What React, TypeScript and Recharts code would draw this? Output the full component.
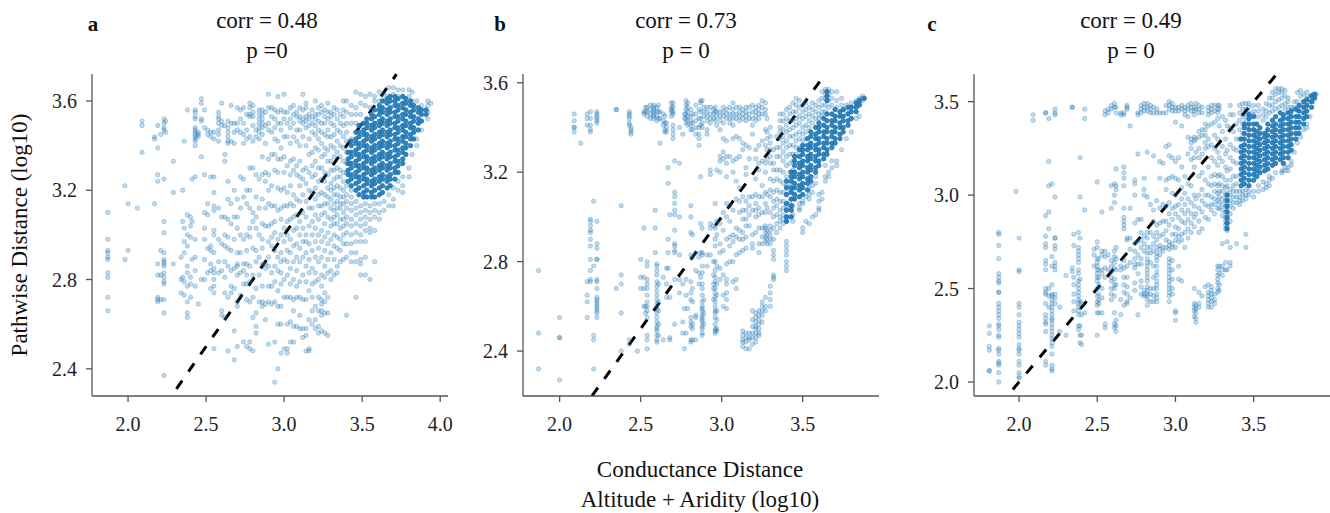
import { ReferenceLine, Scatter, ScatterChart, XAxis, YAxis } from "recharts";

// each entry is one x value and the y values read at that x
type Column = [number, number[]];

const xTicksA = [2.0, 2.5, 3.0, 3.5, 4.0];
const yTicksA = [2.4, 2.8, 3.2, 3.6];
const xTicksB = [2.0, 2.5, 3.0, 3.5];
const yTicksB = [2.4, 2.8, 3.2, 3.6];
const xTicksC = [2.0, 2.5, 3.0, 3.5];
const yTicksC = [2.0, 2.5, 3.0, 3.5];

const pointsA: Column[] = [
  [1.87, [3.1, 2.98, 2.93, 2.92, 2.9, 2.89, 2.83, 2.81, 2.72, 2.66]],
  [1.98, [3.22, 2.89]], [2.0, [3.14, 2.93]], [2.06, [3.12]], [2.09, [3.51, 3.49, 3.37]],
  [2.17, [3.44, 3.43, 3.14]], [2.19, [3.49, 3.39, 3.27, 3.24, 2.87, 2.82, 2.72, 2.71, 2.7]], [2.21, [3.45, 2.93, 2.82, 2.71]],
  [2.23, [3.52, 3.5, 3.48, 3.47, 3.25, 3.06, 3.01, 2.92, 2.89, 2.88, 2.87, 2.86, 2.83, 2.81, 2.79, 2.78, 2.71, 2.65, 2.37]], [2.24, [3.51, 3.46]],
  [2.29, [3.33, 3.19, 2.87]], [2.34, [2.9, 2.8, 2.74]], [2.35, [3.06, 3.2, 2.81]], [2.36, [3.42, 3.03, 2.97, 2.92, 2.79, 2.73]],
  [2.38, [3.56, 3.09, 3.0, 2.95, 2.86, 2.83, 2.77, 2.7, 2.65, 2.63]], [2.4, [3.08, 3.04, 2.99, 2.81, 2.78, 2.72]], [2.41, [3.25, 3.06, 2.89]],
  [2.43, [3.56, 3.55, 3.53, 3.52, 3.48, 3.47, 3.46, 3.45, 3.44, 3.43, 3.42, 3.4, 3.26, 2.98, 2.9, 2.84, 2.77]], [2.45, [3.46, 3.45, 3.44, 2.69]],
  [2.47, [3.61, 3.59, 3.52, 3.51, 3.35, 2.8]], [2.49, [3.56, 3.48, 3.27, 3.1, 3.03, 2.98, 2.89, 2.8]], [2.51, [3.47, 3.45, 3.14, 3.09, 2.94, 2.83]],
  [2.53, [3.46, 3.44, 3.26, 2.95, 2.93, 2.87, 2.84, 2.76]], [2.55, [3.46, 3.43, 3.26, 3.19, 3.13, 3.11, 3.02, 3.0, 2.92, 2.85, 2.83, 2.8, 2.77, 2.74, 2.49]],
  [2.58, [3.55, 3.53, 3.52, 3.5, 3.47, 3.45, 3.42, 3.12, 2.98, 2.88, 2.83]], [2.6, [3.59, 3.51, 3.49, 3.08, 2.96, 2.84, 2.66, 2.64]],
  [2.62, [3.49, 3.36, 3.33, 3.08, 3.0, 2.95, 2.88, 2.81, 2.74, 2.63]], [2.64, [3.51, 3.48, 3.46, 3.44, 3.42, 3.41, 3.24, 3.16, 3.07, 2.99, 2.94, 2.86, 2.72, 2.48]],
  [2.66, [3.58, 3.5, 3.42, 3.14, 3.05, 2.93, 2.84, 2.77, 2.74]], [2.68, [3.5, 3.46, 3.41, 3.2, 3.08, 2.98, 2.85, 2.76, 2.57, 2.44]],
  [2.7, [3.57, 3.5, 3.47, 3.16, 3.08, 3.03, 2.92, 2.87, 2.86, 2.82, 2.7, 2.68, 2.5]], [2.72, [3.56, 3.52, 3.46, 3.26, 3.12, 3.0, 2.92, 2.83, 2.73]],
  [2.74, [3.57, 3.5, 3.45, 3.41, 3.25, 3.17, 2.98, 2.87, 2.84, 2.78, 2.52]], [2.76, [3.54, 3.47, 3.43, 3.2, 3.14, 3.0, 2.93, 2.87, 2.82, 2.78, 2.71, 2.5]],
  [2.78, [3.59, 3.57, 3.54, 3.53, 3.44, 3.3, 3.2, 3.12, 3.03, 2.99, 2.86, 2.79, 2.7, 2.52, 2.49]], [2.8, [3.58, 3.55, 3.53, 3.49, 3.42, 3.3, 3.1, 3.06, 2.94, 2.82, 2.72, 2.63, 2.48]],
  [2.82, [3.47, 3.44, 3.27, 3.17, 3.08, 3.03, 2.93, 2.88, 2.76, 2.65, 2.59, 2.56]], [2.84, [3.56, 3.54, 3.52, 3.5, 3.48, 3.46, 3.43, 3.25, 3.12, 3.0, 2.9, 2.82, 2.7]],
  [2.86, [3.56, 3.54, 3.52, 3.5, 3.48, 3.45, 3.35, 3.27, 3.16, 3.05, 2.98, 2.94, 2.87, 2.77, 2.7, 2.68]], [2.88, [3.55, 3.49, 3.41, 3.28, 3.24, 3.12, 3.04, 2.87, 2.85, 2.69, 2.62]],
  [2.9, [3.63, 3.57, 3.5, 3.47, 3.34, 3.27, 3.2, 3.14, 3.04, 2.97, 2.9, 2.86, 2.77, 2.7, 2.51]], [2.92, [3.57, 3.53, 3.46, 3.36, 3.22, 3.13, 3.05, 2.99, 2.95, 2.83, 2.77, 2.69]],
  [2.94, [3.56, 3.52, 3.48, 3.43, 3.36, 3.29, 3.13, 3.06, 3.01, 2.93, 2.86, 2.79, 2.7, 2.52, 2.34]], [2.96, [3.62, 3.55, 3.5, 3.42, 3.34, 3.28, 3.21, 3.11, 2.98, 2.9, 2.84, 2.75, 2.68, 2.6, 2.4]],
  [2.98, [3.56, 3.5, 3.47, 3.39, 3.34, 3.2, 3.12, 3.07, 3.0, 2.92, 2.88, 2.83, 2.78, 2.68, 2.6, 2.47]], [3.0, [3.63, 3.55, 3.52, 3.44, 3.35, 3.28, 3.21, 3.13, 3.03, 2.97, 2.89, 2.8, 2.72, 2.49]],
  [3.02, [3.55, 3.5, 3.44, 3.31, 3.19, 3.13, 3.06, 3.0, 2.93, 2.88, 2.82, 2.72, 2.6, 2.49, 2.47]], [3.04, [3.57, 3.52, 3.48, 3.41, 3.33, 3.27, 3.22, 3.14, 3.07, 2.98, 2.92, 2.85, 2.78, 2.72, 2.61, 2.52]],
  [3.06, [3.58, 3.54, 3.5, 3.44, 3.34, 3.29, 3.18, 3.13, 3.08, 3.02, 2.95, 2.88, 2.8, 2.71, 2.66, 2.59, 2.52]], [3.08, [3.55, 3.53, 3.47, 3.42, 3.31, 3.27, 3.16, 3.09, 3.03, 2.96, 2.9, 2.84, 2.77, 2.72, 2.59]],
  [3.1, [3.57, 3.53, 3.51, 3.47, 3.4, 3.33, 3.26, 3.22, 3.15, 3.06, 3.0, 2.94, 2.88, 2.79, 2.72, 2.64, 2.58]], [3.12, [3.63, 3.56, 3.52, 3.5, 3.44, 3.29, 3.25, 3.18, 3.1, 3.03, 2.97, 2.9, 2.82, 2.71, 2.58, 2.54]],
  [3.14, [3.59, 3.57, 3.53, 3.51, 3.48, 3.4, 3.3, 3.23, 3.15, 3.08, 3.0, 2.97, 2.92, 2.86, 2.79, 2.71, 2.58, 2.55, 2.48]], [3.16, [3.54, 3.52, 3.49, 3.43, 3.36, 3.28, 3.2, 3.12, 3.04, 2.96, 2.89, 2.83, 2.75, 2.62, 2.49, 2.48]],
  [3.18, [3.56, 3.53, 3.5, 3.46, 3.37, 3.31, 3.26, 3.19, 3.12, 3.06, 3.0, 2.93, 2.85, 2.78, 2.72, 2.66, 2.6]], [3.2, [3.6, 3.54, 3.52, 3.49, 3.45, 3.39, 3.33, 3.27, 3.21, 3.16, 3.09, 3.03, 2.97, 2.9, 2.83, 2.79, 2.68, 2.62, 2.58]],
  [3.22, [3.57, 3.54, 3.51, 3.47, 3.43, 3.38, 3.3, 3.24, 3.18, 3.13, 3.07, 3.0, 2.94, 2.88, 2.8, 2.72, 2.66, 2.59, 2.56]], [3.24, [3.58, 3.55, 3.5, 3.46, 3.41, 3.35, 3.3, 3.25, 3.19, 3.13, 3.09, 3.02, 2.97, 2.9, 2.82, 2.77, 2.71, 2.69, 2.66, 2.64, 2.57]],
  [3.26, [3.56, 3.53, 3.5, 3.45, 3.39, 3.36, 3.28, 3.24, 3.18, 3.14, 3.1, 3.05, 2.99, 2.93, 2.86, 2.81, 2.74, 2.7, 2.65, 2.56]], [3.28, [3.59, 3.55, 3.52, 3.47, 3.44, 3.38, 3.33, 3.27, 3.21, 3.17, 3.14, 3.08, 3.01, 2.96, 2.89, 2.83, 2.72, 2.65, 2.55]],
  [3.3, [3.55, 3.53, 3.5, 3.44, 3.4, 3.33, 3.29, 3.23, 3.2, 3.16, 3.12, 3.07, 3.04, 2.98, 2.92, 2.84, 2.8]], [3.32, [3.57, 3.54, 3.49, 3.45, 3.39, 3.35, 3.29, 3.25, 3.21, 3.18, 3.14, 3.11, 3.08, 3.05, 3.0, 2.95, 2.89, 2.82]],
  [3.34, [3.56, 3.52, 3.47, 3.42, 3.37, 3.3, 3.26, 3.22, 3.18, 3.15, 3.12, 3.09, 3.05, 2.99, 2.94, 2.86, 2.83]], [3.36, [3.54, 3.5, 3.46, 3.4, 3.35, 3.29, 3.26, 3.21, 3.17, 3.14, 3.12, 3.07, 3.03, 2.98, 2.93, 2.88]],
  [3.38, [3.6, 3.56, 3.53, 3.49, 3.44, 3.39, 3.33, 3.28, 3.24, 3.2, 3.17, 3.14, 3.1, 3.07, 3.04, 3.0, 2.96, 2.89]], [3.4, [3.6, 3.55, 3.5, 3.46, 3.42, 3.37, 3.32, 3.28, 3.22, 3.18, 3.15, 3.12, 3.08, 3.05, 3.01, 2.96, 2.9, 2.64]],
  [3.43, [3.58, 3.54, 3.5, 3.43, 3.2, 3.17, 3.14, 3.11, 3.07, 3.04, 3.0, 2.96, 2.92, 2.88]], [3.46, [3.64, 3.57, 3.54, 3.5, 3.15, 3.12, 3.09, 3.05, 3.01, 2.97, 2.92, 2.88, 2.72]],
  [3.49, [3.63, 3.59, 3.54, 3.13, 3.1, 3.07, 3.04, 3.0, 2.97, 2.89, 2.87, 2.82]], [3.52, [3.62, 3.58, 3.14, 3.11, 3.08, 3.05, 3.02, 2.97, 2.9, 2.82]],
  [3.55, [3.63, 3.57, 3.13, 3.1, 3.07, 3.03, 3.01, 2.8]], [3.58, [3.62, 3.6, 3.14, 3.11, 3.08, 3.02, 2.88]], [3.61, [3.64, 3.6, 3.14, 3.1, 3.07]],
  [3.64, [3.63, 3.6, 3.15, 3.11]], [3.67, [3.66, 3.62, 3.18, 3.13]], [3.7, [3.63, 3.66, 3.21, 3.16, 3.13]], [3.73, [3.65, 3.62, 3.24, 3.2]],
  [3.76, [3.65, 3.62, 3.26, 3.22, 3.19]], [3.8, [3.65, 3.62, 3.3, 3.26]], [3.82, [3.64, 3.6, 3.36]], [3.85, [3.6, 3.43, 3.4]], [3.88, [3.58, 3.47]], [3.92, [3.6, 3.58, 3.55, 3.52]], [3.94, [3.59]],
];

const coreA: Column[] = [
  [3.41, [3.24, 3.27, 3.29, 3.32, 3.34, 3.37]], [3.43, [3.22, 3.25, 3.27, 3.3, 3.32, 3.35, 3.37, 3.4, 3.42]],
  [3.46, [3.2, 3.23, 3.26, 3.28, 3.31, 3.33, 3.36, 3.38, 3.41, 3.43, 3.46]], [3.48, [3.18, 3.21, 3.24, 3.26, 3.29, 3.31, 3.34, 3.36, 3.39, 3.41, 3.44, 3.46, 3.49]],
  [3.51, [3.17, 3.19, 3.22, 3.25, 3.27, 3.3, 3.32, 3.35, 3.37, 3.4, 3.42, 3.45, 3.47, 3.5]], [3.53, [3.17, 3.2, 3.23, 3.25, 3.28, 3.3, 3.33, 3.35, 3.38, 3.4, 3.43, 3.45, 3.48, 3.5, 3.52]],
  [3.56, [3.17, 3.19, 3.22, 3.24, 3.27, 3.29, 3.32, 3.34, 3.37, 3.39, 3.42, 3.44, 3.47, 3.49, 3.52, 3.54]], [3.58, [3.17, 3.2, 3.23, 3.25, 3.28, 3.3, 3.33, 3.35, 3.38, 3.4, 3.43, 3.45, 3.48, 3.5, 3.53, 3.56]],
  [3.61, [3.18, 3.21, 3.24, 3.26, 3.29, 3.31, 3.34, 3.36, 3.39, 3.41, 3.44, 3.46, 3.49, 3.51, 3.54, 3.56, 3.58]], [3.63, [3.19, 3.22, 3.25, 3.27, 3.3, 3.32, 3.35, 3.37, 3.4, 3.42, 3.45, 3.47, 3.5, 3.52, 3.55, 3.57, 3.6]],
  [3.66, [3.21, 3.24, 3.26, 3.29, 3.31, 3.34, 3.36, 3.39, 3.41, 3.44, 3.46, 3.49, 3.51, 3.54, 3.56, 3.59, 3.61]], [3.68, [3.22, 3.25, 3.27, 3.3, 3.32, 3.35, 3.37, 3.4, 3.42, 3.45, 3.47, 3.5, 3.52, 3.55, 3.57, 3.6, 3.62]],
  [3.71, [3.25, 3.28, 3.3, 3.33, 3.35, 3.38, 3.4, 3.43, 3.45, 3.48, 3.5, 3.53, 3.55, 3.58, 3.6, 3.62]], [3.73, [3.28, 3.31, 3.33, 3.36, 3.38, 3.41, 3.43, 3.46, 3.48, 3.51, 3.53, 3.56, 3.58, 3.61]],
  [3.76, [3.32, 3.34, 3.37, 3.39, 3.42, 3.44, 3.47, 3.49, 3.52, 3.54, 3.57, 3.59, 3.62]], [3.78, [3.36, 3.39, 3.41, 3.44, 3.46, 3.49, 3.51, 3.54, 3.56, 3.59, 3.61]],
  [3.81, [3.4, 3.43, 3.45, 3.48, 3.5, 3.53, 3.55, 3.58, 3.6]], [3.83, [3.43, 3.46, 3.48, 3.51, 3.53, 3.56, 3.58]],
  [3.86, [3.47, 3.5, 3.52, 3.55, 3.57]], [3.88, [3.51, 3.54, 3.56]], [3.91, [3.54, 3.56]],
];

const pointsB: Column[] = [
  [1.87, [2.76, 2.48, 2.32]], [2.0, [2.55, 2.46, 2.46, 2.27]], [2.09, [3.46, 3.43, 3.4, 3.4, 3.38]], [2.13, [3.33]],
  [2.17, [3.46, 3.44, 3.41, 2.71, 2.65, 2.62, 2.55]], [2.19, [3.47, 3.44, 3.41, 3.39, 3.38, 2.99, 2.98, 2.96, 2.94, 2.93, 2.9, 2.87, 2.81, 2.76, 2.72, 2.71]],
  [2.21, [3.07, 2.78, 2.47, 2.45, 2.32]], [2.23, [3.47, 3.46, 3.45, 3.44, 3.43, 3.42, 2.98, 2.88, 2.86, 2.81, 2.81, 2.72, 2.71, 2.68, 2.64, 2.63, 2.62, 2.61, 2.6, 2.59, 2.58, 2.57, 2.55]],
  [2.35, [3.48, 3.48, 2.68]], [2.38, [3.05, 2.74, 2.7, 2.57, 2.4]], [2.43, [3.47, 3.46, 3.45, 3.44, 3.42, 3.41, 2.45, 2.43]], [2.44, [3.4, 3.39, 3.38, 3.37]],
  [2.48, [2.4]], [2.5, [2.81, 2.73, 2.68]], [2.52, [3.47, 3.46, 2.95, 2.73, 2.68, 2.6]], [2.53, [3.49, 3.47, 2.6, 2.57]],
  [2.54, [3.49, 3.47, 3.45, 2.8, 2.78, 2.72, 2.7, 2.68, 2.65, 2.62, 2.6, 2.58, 2.55, 2.47, 2.45, 2.41]], [2.56, [3.5, 3.48, 3.46, 3.44]],
  [2.58, [3.5, 3.49, 3.48, 3.47, 3.46, 3.45, 3.44]], [2.59, [3.03, 2.95, 2.84]],
  [2.6, [3.49, 3.47, 3.45, 3.43, 2.79, 2.78, 2.76, 2.74, 2.71, 2.69, 2.67, 2.65, 2.63, 2.61, 2.59, 2.57, 2.55, 2.53, 2.51, 2.5, 2.49, 2.47, 2.45, 2.44]], [2.61, [3.5, 3.47, 3.44, 2.7, 2.62, 2.58, 2.52, 2.47]],
  [2.62, [3.47, 3.44, 3.33]], [2.64, [3.46, 3.43, 3.41, 2.73, 2.45]], [2.65, [3.45, 3.42, 3.39, 3.38]], [2.66, [3.42, 3.4, 3.38, 2.77, 2.7, 2.64]],
  [2.67, [3.22, 3.15, 2.9, 2.84, 2.77]], [2.68, [3.01, 2.64, 2.46, 2.45]], [2.69, [3.51, 3.49, 3.48, 3.47, 3.45]], [2.7, [3.51, 3.49, 3.47, 3.46, 3.41, 3.39, 3.37, 3.35]],
  [2.71, [3.25, 3.11, 3.09, 3.06, 3.03, 3.01, 2.94, 2.88, 2.87, 2.85, 2.84, 2.72, 2.52]], [2.74, [3.24, 3.4, 3.0, 2.83, 2.72, 2.66]], [2.76, [3.37, 2.7, 2.53, 2.48]],
  [2.77, [3.46, 3.44, 2.59, 2.41]], [2.78, [3.52, 3.5, 3.48, 3.46, 3.44, 3.42, 2.72, 2.65, 2.48]], [2.79, [3.51, 3.49, 3.47, 3.45, 3.43, 3.41, 2.59]],
  [2.81, [3.48, 3.45, 3.43, 3.41, 3.39, 3.05, 3.0, 2.93, 2.83, 2.71, 2.66, 2.63, 2.55, 2.53, 2.51, 2.45, 2.44]], [2.82, [3.46, 3.42, 3.39, 2.92, 2.82, 2.68, 2.62, 2.52, 2.5, 2.45]],
  [2.84, [3.5, 3.46, 3.43, 3.4, 3.37, 2.84, 2.76, 2.56, 2.55, 2.45]], [2.86, [3.48, 3.44, 3.4, 3.37, 3.35, 3.32, 2.82, 2.75, 2.7]], [2.87, [3.52, 3.51, 3.47, 3.44, 3.41, 3.18, 2.97, 2.84, 2.73]],
  [2.88, [3.52, 3.42, 3.4, 2.95, 2.84, 2.83, 2.78, 2.75, 2.7, 2.68, 2.65, 2.62, 2.6, 2.59, 2.58, 2.56, 2.55, 2.54, 2.53, 2.51, 2.5, 2.48, 2.47]], [2.89, [3.49, 3.47, 3.45, 2.63, 2.57, 2.52]],
  [2.91, [3.49, 3.47, 3.45, 3.43, 3.39, 3.37, 2.83, 2.78]], [2.93, [3.49, 3.46, 3.44, 3.42, 3.21, 3.19, 2.97, 2.95, 2.83]], [2.95, [3.48, 3.46, 3.44, 2.96, 2.8, 2.74, 2.7, 2.68, 2.63]],
  [2.96, [3.49, 3.47, 3.43, 3.06, 2.95, 2.9, 2.87, 2.8, 2.76, 2.73, 2.71, 2.68, 2.66, 2.64, 2.62, 2.6, 2.58, 2.57, 2.55, 2.52, 2.5, 2.49, 2.48]], [2.97, [3.47, 3.45, 3.41, 3.21, 2.98, 2.92, 2.78, 2.7, 2.65, 2.58, 2.54, 2.5, 2.49]],
  [2.99, [3.47, 3.45, 3.43, 3.39, 3.27, 3.25, 3.2, 2.97, 2.88, 2.84, 2.77, 2.72]], [3.01, [3.49, 3.47, 3.45, 3.42, 3.35, 3.29, 3.26, 3.02, 2.94, 2.85, 2.74, 2.65, 2.6]],
  [3.03, [3.48, 3.46, 3.44, 3.34, 3.27, 3.24, 3.18, 3.06, 3.0, 2.9, 2.79, 2.72, 2.7, 2.66, 2.63, 2.59]], [3.05, [3.49, 3.46, 3.44, 3.42, 3.27, 3.05, 2.98, 2.91, 2.87, 2.8]],
  [3.07, [3.51, 3.48, 3.46, 3.44, 3.41, 3.35, 3.25, 3.2, 3.03, 2.92, 2.89, 2.8, 2.71]], [3.09, [3.49, 3.46, 3.44, 3.36, 3.26, 3.16, 3.08, 2.95, 2.91, 2.83, 2.72, 2.68]],
  [3.11, [3.49, 3.47, 3.45, 3.43, 3.35, 3.27, 3.13, 3.07, 3.02, 2.94, 2.9, 2.84]], [3.13, [3.48, 3.46, 3.44, 3.33, 3.3, 3.09, 3.03, 2.99, 2.93, 2.9, 2.85, 2.49, 2.47, 2.45, 2.44, 2.42]],
  [3.15, [3.49, 3.47, 3.45, 3.43, 3.32, 3.22, 3.19, 3.07, 3.03, 2.99, 2.96, 2.91, 2.86, 2.48, 2.46, 2.44, 2.41]], [3.17, [3.49, 3.46, 3.44, 3.31, 3.26, 3.09, 3.05, 3.01, 2.96, 2.48, 2.46, 2.45, 2.41]],
  [3.19, [3.5, 3.47, 3.44, 3.41, 3.37, 3.09, 3.03, 2.92, 2.88, 2.86, 2.58, 2.54, 2.51, 2.48, 2.46, 2.43]], [3.21, [3.49, 3.47, 3.45, 3.43, 3.3, 3.26, 3.17, 3.1, 3.06, 3.03, 3.0, 2.93, 2.57, 2.55, 2.53, 2.51, 2.5, 2.48, 2.46, 2.44]],
  [3.23, [3.5, 3.48, 3.46, 3.44, 3.32, 3.24, 3.21, 3.09, 3.04, 3.01, 2.95, 2.88, 2.84, 2.58, 2.56, 2.54, 2.52, 2.5, 2.48, 2.47]], [3.25, [3.52, 3.49, 3.46, 3.34, 3.25, 3.14, 3.09, 3.02, 2.95, 2.91, 2.88, 2.62, 2.6, 2.58, 2.56, 2.53]],
  [3.27, [3.51, 3.48, 3.46, 3.39, 3.32, 3.24, 3.2, 3.11, 3.06, 3.02, 2.96, 2.95, 2.93, 2.91, 2.89, 2.64, 2.6, 2.58]], [3.28, [3.44, 3.38, 3.35, 3.3, 3.26, 3.1, 3.04, 2.94, 2.92, 2.9, 2.88]],
  [3.3, [3.4, 3.36, 3.33, 3.3, 3.27, 3.24, 3.17, 3.12, 3.09, 3.02, 2.96, 2.94, 2.92, 2.9, 2.88, 2.69, 2.66, 2.63, 2.6]], [3.32, [3.3, 3.24, 3.21, 3.16, 3.11, 3.07, 3.04, 3.0, 2.95, 2.9, 2.85, 2.83, 2.81, 2.74, 2.73, 2.72]],
  [3.34, [3.36, 3.31, 3.27, 3.21, 3.17, 3.12, 3.08, 3.05, 3.01, 2.97, 2.93]], [3.36, [3.46, 3.43, 3.4, 3.38, 3.35, 3.31, 3.27, 3.21, 3.16, 3.11, 3.07, 3.03, 3.0, 2.98, 2.95]],
  [3.38, [3.46, 3.43, 3.39, 3.36, 3.33, 3.29, 3.25, 3.2, 3.15, 3.11, 3.07, 3.04, 3.01, 2.99, 2.97]], [3.4, [3.48, 3.44, 3.41, 3.38, 3.34, 3.31, 3.27, 3.23, 3.18, 3.14, 3.1, 3.05, 3.03, 3.0, 2.98, 2.89, 2.87, 2.85, 2.83, 2.8, 2.78, 2.76]],
  [3.42, [3.49, 3.46, 3.43, 3.39, 3.36, 3.32, 3.28, 3.24, 3.2, 3.15, 3.11, 3.07, 3.04, 3.0]], [3.44, [3.51, 3.47, 3.43, 3.4, 3.36, 3.32, 3.28, 3.25, 3.21, 3.05, 3.01, 2.98]],
  [3.46, [3.53, 3.5, 3.47, 3.44, 3.41, 3.37, 3.34, 3.31, 3.28]], [3.48, [3.52, 3.49, 3.45, 3.42, 3.38, 3.35, 3.31, 3.06, 3.04, 3.03]], [3.5, [3.5, 3.47, 3.44, 3.4, 3.37, 3.34, 3.07, 3.06, 2.95, 2.93]],
  [3.52, [3.51, 3.48, 3.45, 3.41, 3.38, 3.35, 3.09, 2.98]], [3.54, [3.49, 3.46, 3.43, 3.4, 3.13, 3.1, 3.08, 2.97]], [3.56, [3.51, 3.48, 3.45, 3.42, 3.14, 3.11, 3.0]],
  [3.58, [3.5, 3.47, 3.44, 3.18, 3.15, 3.01]], [3.6, [3.52, 3.49, 3.46, 3.44, 3.1, 3.07, 3.04, 3.03]], [3.62, [3.56, 3.53, 3.5, 3.47, 3.45, 3.11, 3.08]],
  [3.64, [3.57, 3.55, 3.53, 3.5, 3.47, 3.23, 3.18, 3.16]], [3.66, [3.57, 3.55, 3.52, 3.49, 3.2, 3.18]], [3.68, [3.56, 3.53, 3.5, 3.25, 3.22]], [3.71, [3.56, 3.52, 3.49, 3.25, 3.23]],
  [3.74, [3.53, 3.5, 3.3]], [3.77, [3.5, 3.47, 3.35]], [3.8, [3.51, 3.38]], [3.83, [3.52, 3.5, 3.44]], [3.85, [3.53, 3.52, 3.51, 3.45]], [3.87, [3.54, 3.53, 3.52]],
];

const coreB: Column[] = [
  [3.4, [2.98, 3.0, 3.03, 3.06, 3.1, 3.13, 3.16]], [3.43, [3.0, 3.03, 3.05, 3.08, 3.11, 3.13, 3.16, 3.18, 3.2]],
  [3.45, [3.08, 3.1, 3.13, 3.15, 3.18, 3.2, 3.23, 3.25, 3.27]], [3.48, [3.09, 3.12, 3.14, 3.17, 3.19, 3.22, 3.24, 3.27, 3.3]],
  [3.5, [3.1, 3.13, 3.15, 3.18, 3.2, 3.23, 3.25, 3.28, 3.3, 3.32]], [3.53, [3.12, 3.15, 3.17, 3.2, 3.22, 3.25, 3.27, 3.3, 3.32, 3.35]],
  [3.55, [3.16, 3.18, 3.21, 3.23, 3.26, 3.28, 3.31, 3.33, 3.36, 3.38]], [3.58, [3.2, 3.22, 3.25, 3.27, 3.3, 3.32, 3.35, 3.37, 3.4]],
  [3.6, [3.23, 3.25, 3.28, 3.3, 3.33, 3.35, 3.38, 3.4, 3.42]], [3.63, [3.26, 3.28, 3.31, 3.33, 3.36, 3.38, 3.41, 3.44]],
  [3.65, [3.28, 3.3, 3.33, 3.35, 3.38, 3.4, 3.43, 3.46, 3.52, 3.54, 3.56]], [3.68, [3.31, 3.33, 3.36, 3.38, 3.41, 3.43, 3.46]],
  [3.7, [3.33, 3.35, 3.38, 3.4, 3.43, 3.45, 3.48]], [3.73, [3.35, 3.37, 3.4, 3.42, 3.45, 3.47]], [3.75, [3.38, 3.4, 3.43, 3.45, 3.48]],
  [3.78, [3.41, 3.43, 3.46, 3.49]], [3.8, [3.44, 3.47, 3.49]], [3.83, [3.47, 3.49, 3.51]], [3.85, [3.5, 3.52]], [3.88, [3.53]],
];

const pointsC: Column[] = [
  [1.81, [2.3, 2.26, 2.19, 2.17, 2.06, 2.06]],
  [1.87, [2.8, 2.79, 2.73, 2.66, 2.58, 2.56, 2.54, 2.53, 2.48, 2.48, 2.42, 2.4, 2.38, 2.36, 2.34, 2.31, 2.3, 2.28, 2.25, 2.24, 2.18, 2.17, 2.15, 2.11, 2.1, 2.09, 2.05, 2.0]],
  [1.98, [3.02]], [2.0, [2.77, 2.6, 2.59, 2.42, 2.4, 2.36, 2.32, 2.3, 2.28, 2.26, 2.24, 2.2, 2.18, 2.17, 2.15, 2.11, 2.09, 2.05, 2.03, 2.02]],
  [2.09, [3.43, 3.4]], [2.17, [3.44, 3.44, 2.89, 2.78, 2.74, 2.72, 2.65, 2.63, 2.6, 2.5, 2.48, 2.47, 2.42, 2.36, 2.34, 2.32, 2.31, 2.27, 2.11, 2.09]],
  [2.19, [3.41, 3.18, 3.05, 2.91, 2.82, 2.5, 2.46, 2.4]], [2.21, [3.06, 2.67, 2.62, 2.52, 2.47, 2.46, 2.44, 2.42, 2.4, 2.38, 2.36, 2.34, 2.33, 2.31, 2.29, 2.27, 2.25, 2.23, 2.21, 2.19, 2.15, 2.09, 2.07, 2.06]],
  [2.23, [3.46, 3.44, 3.43, 2.99, 2.77, 2.77, 2.73, 2.71, 2.64, 2.62, 2.6, 2.47, 2.45, 2.42]], [2.26, [2.4, 2.27]], [2.3, [2.57, 2.25]], [2.34, [3.47, 3.47, 2.61, 2.59]],
  [2.35, [2.79, 2.73, 2.56, 2.52, 2.47, 2.43, 2.38]], [2.38, [2.8, 2.72, 2.7, 2.68, 2.66, 2.64, 2.6, 2.58, 2.54, 2.52, 2.5, 2.48, 2.46, 2.44, 2.42, 2.4, 2.38, 2.36, 2.3, 2.28]],
  [2.39, [3.2, 2.99, 2.77, 2.55, 2.43, 2.3, 2.25, 2.21]], [2.4, [2.42, 2.36, 2.25, 2.2]], [2.42, [3.46, 3.41, 2.92, 2.37]],
  [2.48, [2.71, 2.68, 2.62]], [2.5, [3.07, 2.75, 2.72, 2.66, 2.64, 2.62, 2.6, 2.58, 2.56, 2.54, 2.5, 2.46, 2.43, 2.41, 2.37, 2.25]], [2.51, [2.66, 2.6, 2.56, 2.52, 2.47, 2.44, 2.42, 2.37]],
  [2.53, [2.91, 2.7, 2.68, 2.6, 2.58, 2.5, 2.45, 2.37]], [2.55, [3.45, 3.43, 2.7, 2.67, 2.61, 2.56, 2.31, 2.29]], [2.57, [3.46, 3.44, 2.68, 2.6]],
  [2.59, [3.48, 3.46, 3.05, 2.93, 2.65, 2.62, 2.59, 2.56, 2.54, 2.5, 2.47, 2.44]], [2.61, [3.49, 3.47, 3.06, 3.0, 2.96, 2.7, 2.67, 2.64, 2.61, 2.55, 2.52, 2.5, 2.46, 2.37, 2.31, 2.29]],
  [2.62, [3.47, 3.44, 3.14, 3.05, 3.03, 2.72, 2.66, 2.6, 2.52, 2.33, 2.3, 2.27]], [2.65, [3.44, 3.43, 2.62, 2.6, 2.44, 2.36]], [2.67, [3.44, 3.43, 3.15, 3.12, 3.09, 3.05, 2.93, 2.88, 2.86, 2.84, 2.82, 2.65, 2.61, 2.56, 2.52, 2.48, 2.41]],
  [2.69, [3.48, 3.47, 3.46, 2.77, 2.76, 2.62, 2.56, 2.51, 2.47, 2.43, 2.42]], [2.71, [3.37, 2.93, 2.77, 2.71, 2.64, 2.45]], [2.74, [3.08, 3.06, 3.0, 2.85, 2.74, 2.7, 2.66, 2.63, 2.61, 2.53, 2.49]],
  [2.76, [3.44, 3.43, 3.22, 2.87, 2.75, 2.68, 2.63, 2.58, 2.36]], [2.78, [3.48, 3.46, 3.44, 2.87, 2.8, 2.76, 2.72, 2.66, 2.63, 2.54, 2.51, 2.47]], [2.8, [3.49, 3.47, 3.45, 3.09, 3.03, 3.0, 2.78, 2.74, 2.7, 2.49, 2.47, 2.46]],
  [2.82, [3.49, 3.47, 3.45, 3.23, 2.99, 2.8, 2.77, 2.72, 2.69, 2.66, 2.64, 2.62, 2.6, 2.58, 2.56, 2.54, 2.51, 2.49, 2.47, 2.46, 2.44, 2.41]], [2.84, [3.48, 3.46, 3.44, 2.95, 2.8, 2.72, 2.69, 2.64, 2.5, 2.47, 2.43]],
  [2.86, [3.47, 3.44, 3.21, 2.92, 2.86, 2.78, 2.74, 2.7, 2.62, 2.56, 2.5, 2.46, 2.43]], [2.88, [3.46, 3.44, 2.97, 2.84, 2.8, 2.76, 2.72, 2.69, 2.67, 2.65, 2.62, 2.59, 2.57, 2.54, 2.52, 2.5, 2.47, 2.45, 2.43]],
  [2.9, [3.44, 3.18, 3.09, 2.93, 2.85, 2.78, 2.73, 2.71, 2.68]], [2.92, [3.44, 3.17, 2.95, 2.86, 2.79, 2.72, 2.7]], [2.94, [3.48, 3.44, 3.26, 3.08, 3.03, 2.94, 2.86, 2.81, 2.76, 2.72]],
  [2.96, [3.5, 3.48, 3.46, 3.27, 3.21, 3.09, 2.96, 2.9, 2.84, 2.75, 2.73, 2.71, 2.66, 2.64, 2.62, 2.6, 2.58, 2.56, 2.54, 2.52, 2.5, 2.48, 2.46, 2.43]], [2.98, [3.49, 3.47, 3.45, 3.2, 3.1, 3.01, 2.93, 2.87, 2.79, 2.74, 2.72, 2.65, 2.6, 2.55, 2.5, 2.47]],
  [3.0, [3.47, 3.45, 3.39, 3.18, 3.09, 3.0, 2.94, 2.9, 2.83, 2.79, 2.76, 2.72, 2.33, 2.38, 2.37]], [3.02, [3.47, 3.45, 3.2, 3.08, 2.95, 2.88, 2.82, 2.78, 2.75, 2.62, 2.55]], [3.04, [3.48, 3.46, 3.37, 3.15, 3.04, 2.98, 2.92, 2.86, 2.79, 2.76, 2.54]],
  [3.06, [3.47, 3.45, 3.43, 3.1, 3.01, 2.95, 2.9, 2.85, 2.8, 2.72]], [3.08, [3.48, 3.46, 3.42, 3.31, 3.22, 3.06, 2.98, 2.92, 2.87, 2.82, 2.77]], [3.1, [3.49, 3.47, 3.45, 3.3, 3.28, 3.25, 3.19, 3.05, 2.96, 2.9, 2.85, 2.8]],
  [3.12, [3.47, 3.45, 3.43, 3.31, 3.29, 3.2, 3.15, 3.0, 2.94, 2.88, 2.83, 2.5, 2.42, 2.4, 2.38, 2.35]], [3.13, [3.49, 3.46, 3.3, 3.23, 2.98, 2.9, 2.41, 2.39, 2.37, 2.34, 2.32]], [3.15, [3.48, 3.46, 3.44, 3.34, 3.31, 3.25, 3.2, 3.1, 3.0, 2.93, 2.86, 2.8, 2.48, 2.42, 2.4]],
  [3.17, [3.47, 3.44, 3.35, 3.32, 3.22, 3.12, 3.03, 2.97, 2.91, 2.82, 2.46]], [3.19, [3.38, 3.35, 3.32, 3.28, 3.25, 3.08, 3.0, 2.95, 2.88, 2.51]], [3.21, [3.47, 3.45, 3.43, 3.37, 3.3, 3.26, 3.15, 3.06, 3.0, 2.94, 2.87, 2.52, 2.48, 2.46, 2.44, 2.42, 2.4]],
  [3.23, [3.48, 3.46, 3.44, 3.38, 3.27, 3.2, 3.1, 3.05, 2.99, 2.95, 2.92, 2.51, 2.49, 2.47, 2.45, 2.43, 2.4]], [3.25, [3.48, 3.45, 3.39, 3.32, 3.25, 3.18, 3.11, 3.06, 3.02, 2.98, 2.95, 2.9, 2.47, 2.44, 2.42]],
  [3.27, [3.48, 3.46, 3.44, 3.41, 3.3, 3.23, 3.16, 3.1, 3.05, 3.01, 2.97, 2.93, 2.62, 2.6, 2.57, 2.55, 2.53, 2.5, 2.48]], [3.28, [3.48, 3.46, 3.37, 3.2, 3.11, 3.06, 3.02, 2.99, 2.96, 2.93, 2.62, 2.58, 2.52, 2.49]],
  [3.3, [3.42, 3.34, 3.26, 3.18, 3.1, 3.05, 3.02, 2.98, 2.95, 2.92, 2.89, 2.62, 2.6, 2.57, 2.74]], [3.32, [3.4, 3.3, 3.22, 3.15, 3.08, 3.04, 3.0, 2.97, 2.94, 2.91, 2.88, 2.86, 2.84, 2.82, 2.64, 2.6]],
  [3.33, [3.37, 3.24, 3.13, 3.05, 3.01, 2.98, 2.95, 2.92, 2.9, 2.87, 2.85, 2.83, 2.81, 2.75, 2.6]], [3.35, [3.48, 3.43, 3.36, 3.27, 3.2, 3.14, 3.08, 3.03, 3.0, 2.97, 2.94, 2.9, 2.86, 2.72, 2.64, 2.62]],
  [3.37, [3.43, 3.34, 3.25, 3.18, 3.1, 3.05, 3.02, 2.99, 2.96, 2.93]], [3.39, [3.38, 3.3, 3.24, 3.17, 3.1, 3.06, 3.02, 2.99, 2.96, 2.74]], [3.41, [3.48, 3.44, 3.4, 3.35, 3.3, 3.02, 2.99, 2.97, 2.95]],
  [3.43, [3.49, 3.46, 3.42, 3.38, 3.33, 3.02, 3.0, 2.97]], [3.45, [3.49, 3.46, 3.43, 3.4, 3.37, 3.03, 3.0, 2.98, 2.79, 2.72]], [3.47, [3.49, 3.47, 3.44, 3.41, 3.38, 3.02, 3.0]],
  [3.5, [3.48, 3.45, 3.43, 3.02, 2.99]], [3.53, [3.48, 3.45, 3.42, 3.05, 3.02]], [3.56, [3.46, 3.43, 3.4, 3.07, 3.03]], [3.58, [3.49, 3.45, 3.42, 3.06, 3.04]],
  [3.6, [3.52, 3.48, 3.44, 3.1, 3.08, 3.05]], [3.62, [3.55, 3.52, 3.48, 3.45, 3.09]], [3.64, [3.57, 3.54, 3.5, 3.46, 3.12]], [3.66, [3.57, 3.55, 3.51, 3.47]],
  [3.68, [3.57, 3.55, 3.52, 3.48, 3.13, 3.12]], [3.7, [3.56, 3.53, 3.49, 3.46, 3.15, 3.13]], [3.72, [3.52, 3.5, 3.47, 3.15, 3.13]], [3.74, [3.47, 3.44, 3.18, 3.16]],
  [3.76, [3.5, 3.47, 3.23]], [3.78, [3.55, 3.5, 3.45, 3.28]], [3.8, [3.56, 3.53, 3.48, 3.31]], [3.82, [3.54, 3.5, 3.35]], [3.84, [3.55, 3.52, 3.38, 3.36]], [3.86, [3.53, 3.5, 3.42]], [3.88, [3.54, 3.52, 3.5]], [3.9, [3.54]],
];

const coreC: Column[] = [
  [3.33, [2.82, 2.85, 2.88, 2.91, 2.94, 2.97, 3.0]], [3.42, [3.05, 3.08, 3.11, 3.14, 3.17, 3.2, 3.23, 3.26, 3.3]], [3.44, [3.06, 3.09, 3.12, 3.15, 3.18, 3.21, 3.24, 3.27, 3.3, 3.33, 3.36, 3.38]],
  [3.47, [3.05, 3.08, 3.11, 3.14, 3.17, 3.2, 3.23, 3.26, 3.29, 3.32, 3.35, 3.38, 3.41, 3.43]], [3.5, [3.08, 3.11, 3.14, 3.17, 3.2, 3.23, 3.26, 3.29, 3.32, 3.35, 3.38, 3.42]],
  [3.52, [3.1, 3.13, 3.16, 3.19, 3.22, 3.25, 3.28, 3.31, 3.34, 3.38]], [3.54, [3.12, 3.15, 3.18, 3.21, 3.24, 3.27, 3.3, 3.33, 3.36]], [3.57, [3.13, 3.16, 3.19, 3.22, 3.25, 3.28, 3.31, 3.33]],
  [3.59, [3.14, 3.17, 3.2, 3.23, 3.26, 3.29, 3.32, 3.35, 3.38]], [3.62, [3.16, 3.19, 3.22, 3.25, 3.28, 3.31, 3.34, 3.37, 3.4]], [3.64, [3.17, 3.2, 3.23, 3.26, 3.29, 3.32, 3.35, 3.38, 3.42]],
  [3.67, [3.19, 3.22, 3.25, 3.28, 3.31, 3.34, 3.37, 3.4, 3.44]], [3.69, [3.17, 3.2, 3.23, 3.26, 3.29, 3.32, 3.35, 3.38, 3.41, 3.43]], [3.72, [3.2, 3.23, 3.26, 3.29, 3.32, 3.35, 3.38, 3.41, 3.44]],
  [3.74, [3.24, 3.27, 3.3, 3.33, 3.36, 3.39, 3.42, 3.45]], [3.77, [3.3, 3.33, 3.36, 3.39, 3.42, 3.46]], [3.79, [3.33, 3.36, 3.39, 3.42, 3.45, 3.48]],
  [3.82, [3.38, 3.41, 3.44, 3.47, 3.5]], [3.84, [3.42, 3.45, 3.48, 3.51]], [3.87, [3.47, 3.5, 3.53]], [3.89, [3.52, 3.54]],
];

const toPoints = (columns: Column[]) => columns.flatMap(([x, ys]) => ys.map((y) => ({ x, y })));

const SERIF = "'Liberation Serif', serif";
const BLUE = "#1f77b4";
const AXIS = "#555";

const tickStyle = { fontFamily: SERIF, fontSize: 20, fill: "#222" };

// small ring-like marker, the default symbol is much too big here
const dot = (props: any) => (
  <circle cx={props.cx} cy={props.cy} r={2.2} fill={props.fill} fillOpacity={props.fillOpacity} stroke={props.stroke} strokeOpacity={props.strokeOpacity} strokeWidth={1} />
);

interface PanelProps {
  left: number;
  width: number;
  axisWidth: number;
  right: number;
  xDomain: [number, number];
  yDomain: [number, number];
  xTicks: number[];
  yTicks: number[];
  points: Column[];
  core: Column[];
  lineFrom: number;
  lineTo: number;
}

function Panel({ left, width, axisWidth, right, xDomain, yDomain, xTicks, yTicks, points, core, lineFrom, lineTo }: PanelProps) {
  return (
    <div style={{ position: "absolute", left, top: 0 }}>
      <ScatterChart width={width} height={513} margin={{ top: 74, right, bottom: 57, left: 0 }}>
        <XAxis
          type="number"
          dataKey="x"
          domain={xDomain}
          ticks={xTicks}
          tickFormatter={(v: number) => v.toFixed(1)}
          height={60}
          tickSize={6}
          tickMargin={15}
          stroke={AXIS}
          strokeWidth={1.3}
          tick={tickStyle}
          allowDataOverflow
        />
        <YAxis
          type="number"
          dataKey="y"
          domain={yDomain}
          ticks={yTicks}
          tickFormatter={(v: number) => v.toFixed(1)}
          width={axisWidth}
          tickSize={6}
          tickMargin={9}
          stroke={AXIS}
          strokeWidth={1.3}
          tick={tickStyle}
          allowDataOverflow
        />
        <Scatter data={toPoints(points)} shape={dot} fill={BLUE} fillOpacity={0.27} stroke={BLUE} strokeOpacity={0.27} isAnimationActive={false} />
        <Scatter data={toPoints(core)} shape={dot} fill={BLUE} fillOpacity={0.9} stroke={BLUE} strokeOpacity={0.9} isAnimationActive={false} />
        <ReferenceLine
          segment={[{ x: lineFrom, y: lineFrom }, { x: lineTo, y: lineTo }]}
          stroke="#000"
          strokeWidth={3}
          strokeDasharray="10 11"
        />
      </ScatterChart>
    </div>
  );
}

function Caption({ x, y, children, bold }: { x: number; y: number; children: string; bold?: boolean }) {
  return (
    <div
      style={{
        position: "absolute",
        left: x - 200,
        top: y - 15,
        width: 400,
        height: 30,
        lineHeight: "30px",
        textAlign: "center",
        fontFamily: SERIF,
        fontSize: bold ? 21 : 23,
        fontWeight: bold ? 700 : 400,
        color: "#111",
      }}
    >
      {children}
    </div>
  );
}

export default function App() {
  return (
    <div style={{ position: "absolute", left: 0, top: 0, width: 1330, height: 513, background: "#fff", overflow: "hidden" }}>
      <Panel left={0} width={470} axisWidth={92} right={22} xDomain={[1.769, 4.05]} yDomain={[2.278, 3.721]} xTicks={xTicksA} yTicks={yTicksA} points={pointsA} core={coreA} lineFrom={2.31} lineTo={3.72} />
      <Panel left={470} width={420} axisWidth={53} right={11} xDomain={[1.774, 3.971]} yDomain={[2.199, 3.639]} xTicks={xTicksB} yTicks={yTicksB} points={pointsB} core={coreB} lineFrom={2.2} lineTo={3.639} />
      <Panel left={890} width={440} axisWidth={84} right={0} xDomain={[1.712, 3.988]} yDomain={[1.925, 3.648]} xTicks={xTicksC} yTicks={yTicksC} points={pointsC} core={coreC} lineFrom={1.96} lineTo={3.64} />

      <Caption x={93} y={24} bold>a</Caption>
      <Caption x={500} y={24} bold>b</Caption>
      <Caption x={932} y={24} bold>c</Caption>
      <Caption x={267} y={21}>corr = 0.48</Caption>
      <Caption x={267} y={51}>p =0</Caption>
      <Caption x={686} y={21}>corr = 0.73</Caption>
      <Caption x={686} y={51}>p = 0</Caption>
      <Caption x={1131} y={21}>corr = 0.49</Caption>
      <Caption x={1131} y={51}>p = 0</Caption>
      <Caption x={700} y={470}>Conductance Distance</Caption>
      <Caption x={700} y={500}>Altitude + Aridity (log10)</Caption>
      <div
        style={{
          position: "absolute",
          left: 20 - 200,
          top: 235 - 15,
          width: 400,
          height: 30,
          lineHeight: "30px",
          textAlign: "center",
          fontFamily: SERIF,
          fontSize: 23,
          color: "#111",
          transform: "rotate(-90deg)",
        }}
      >
        Pathwise Distance (log10)
      </div>
    </div>
  );
}
